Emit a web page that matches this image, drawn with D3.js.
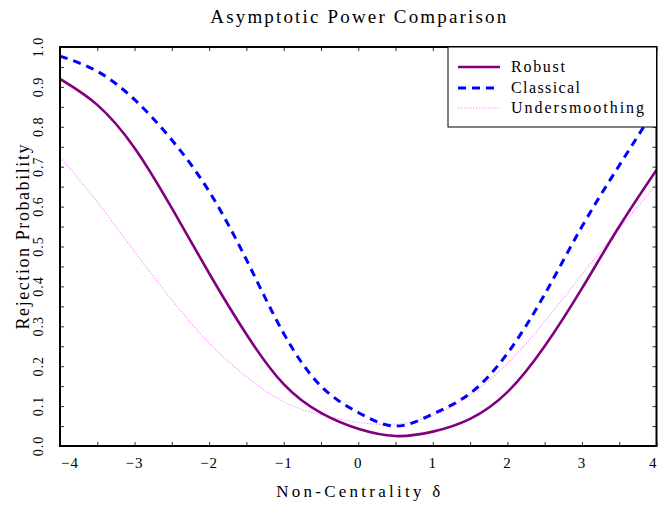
<!DOCTYPE html>
<html>
<head>
<meta charset="utf-8">
<script src="https://cdn.jsdelivr.net/npm/d3@7"></script>
<style>
  body { margin: 0; background: #fff; }
  text { font-family: "Liberation Serif", "DejaVu Serif", serif; fill: #000; }
</style>
</head>
<body>
<div class="chart"></div>
<script>
// values
let deltas = [-4, -3.5, -3, -2.5, -2, -1.5, -1, -0.5, 0, 0.5, 1, 1.5, 2, 2.5, 3, 3.5, 4]
let robust = [0.920, 0.855, 0.747, 0.596, 0.433, 0.280, 0.155, 0.083, 0.043, 0.025, 0.036, 0.068, 0.135, 0.250, 0.395, 0.550, 0.692]
let classical = [0.977, 0.939, 0.868, 0.767, 0.638, 0.467, 0.282, 0.150, 0.084, 0.050, 0.080, 0.132, 0.232, 0.380, 0.550, 0.703, 0.850]
let under = [0.724, 0.612, 0.487, 0.366, 0.258, 0.174, 0.111, 0.078, 0.059, 0.055, 0.076, 0.128, 0.207, 0.312, 0.430, 0.545, 0.655]

let seriesNames = ["Robust", "Classical", "Undersmoothing"]
let xLabelTicks = [-4, -3, -2, -1, 0, 1, 2, 3, 4]
let xMinorTicks = d3.range(-4, 4.001, 0.5)
let yLabelTicks = d3.range(0, 1.001, 0.1)
let yMinorTicks = d3.range(0, 1.001, 0.05)

let w = 658
let h = 506
let pLeft = 60, pRight = 656.5, pTop = 47, pBottom = 446

let svg = d3.select(".chart")
            .append("svg")
            .attr("width", w)
            .attr("height", h)

let x = d3.scaleLinear().domain([-4, 4]).range([pLeft, pRight])
let y = d3.scaleLinear().domain([0, 1]).range([pBottom, pTop])

svg.append("clipPath").attr("id", "plot")
   .append("rect")
   .attr("x", pLeft).attr("y", pTop)
   .attr("width", pRight - pLeft).attr("height", pBottom - pTop)

// styles for each series
let styles = [
  { color: "#800080", width: 2.6, dash: null },
  { color: "#0000ff", width: 3, dash: "8,6" },
  { color: "#ff9cff", width: 1.1, dash: "1.5,1.5" }
]
let allSeries = [robust, classical, under]

let line = d3.line()
  .x(d => x(d[0]))
  .y(d => y(d[1]))
  .curve(d3.curveNatural)

// draw lines (undersmoothing first so it sits below)
let order = [2, 1, 0]
svg.append("g").attr("clip-path", "url(#plot)")
  .selectAll("path")
  .data(order)
  .enter()
  .append("path")
  .attr("d", i => line(deltas.map((d, k) => [d, allSeries[i][k]])))
  .attr("fill", "none")
  .attr("stroke", i => styles[i].color)
  .attr("stroke-width", i => styles[i].width)
  .attr("stroke-dasharray", i => styles[i].dash)

// inward ticks on all four sides
function tickAxis(axis, tx, ty) {
  let g = svg.append("g")
     .attr("transform", "translate(" + tx + "," + ty + ")")
     .call(axis)
  g.select(".domain").remove()
  g.selectAll(".tick line").attr("stroke", "#333")
}
tickAxis(d3.axisBottom(x).tickValues(xMinorTicks).tickSize(-4).tickFormat(""), 0, pBottom)
tickAxis(d3.axisTop(x).tickValues(xMinorTicks).tickSize(-4).tickFormat(""), 0, pTop)
tickAxis(d3.axisLeft(y).tickValues(yMinorTicks).tickSize(-4).tickFormat(""), pLeft, 0)
tickAxis(d3.axisRight(y).tickValues(yMinorTicks).tickSize(-4).tickFormat(""), pRight, 0)

// frame
svg.append("rect")
   .attr("x", pLeft).attr("y", pTop)
   .attr("width", pRight - pLeft).attr("height", pBottom - pTop)
   .attr("fill", "none")
   .attr("stroke", "#000")
   .attr("stroke-width", 2)

// x tick labels (end labels pulled inside the page)
svg.append("g").selectAll("text")
   .data(xLabelTicks)
   .enter()
   .append("text")
   .attr("x", d => d == -4 ? x(d) + 1 : d == 4 ? x(d) : x(d))
   .attr("y", 468)
   .attr("text-anchor", d => d == -4 ? "start" : d == 4 ? "end" : "middle")
   .style("font-size", "15px")
   .style("letter-spacing", d => d == 4 ? "0px" : "1px")
   .text(d3.format("d"))

// y tick labels, rotated
svg.append("g").selectAll("text")
   .data(yLabelTicks)
   .enter()
   .append("text")
   .attr("transform", d => "translate(43," + y(d) + ") rotate(-90)")
   .attr("text-anchor", "middle")
   .style("font-size", "14px")
   .style("letter-spacing", "1px")
   .text(d3.format(".1f"))

// titles
svg.append("text")
   .attr("x", (pLeft + pRight) / 2).attr("y", 23)
   .attr("text-anchor", "middle")
   .attr("textLength", 296).attr("lengthAdjust", "spacing")
   .style("font-size", "19px")
   .text("Asymptotic Power Comparison")

svg.append("text")
   .attr("x", (pLeft + pRight) / 2).attr("y", 497)
   .attr("text-anchor", "middle")
   .attr("textLength", 164).attr("lengthAdjust", "spacing")
   .style("font-size", "17px")
   .text("Non-Centrality δ")

svg.append("text")
   .attr("transform", "translate(29,237) rotate(-90)")
   .attr("text-anchor", "middle")
   .attr("textLength", 185).attr("lengthAdjust", "spacing")
   .style("font-size", "18px")
   .text("Rejection Probability")

// legend
let legend = svg.append("g")
legend.append("rect")
   .attr("x", 448).attr("y", pTop)
   .attr("width", pRight - 448).attr("height", 80)
   .attr("fill", "#fff")
   .attr("stroke", "#000")
   .attr("stroke-width", 1)

let legendRows = [67, 88, 108]
let legendWidths = [54, 69, 133]
seriesNames.forEach(function(name, i) {
  legend.append("line")
     .attr("x1", 458).attr("x2", 500)
     .attr("y1", legendRows[i]).attr("y2", legendRows[i])
     .attr("stroke", styles[i].color)
     .attr("stroke-width", styles[i].width)
     .attr("stroke-dasharray", styles[i].dash)
  legend.append("text")
     .attr("x", 511).attr("y", legendRows[i] + 5)
     .attr("textLength", legendWidths[i]).attr("lengthAdjust", "spacing")
     .style("font-size", "16px")
     .text(name)
})
</script>
</body>
</html>
